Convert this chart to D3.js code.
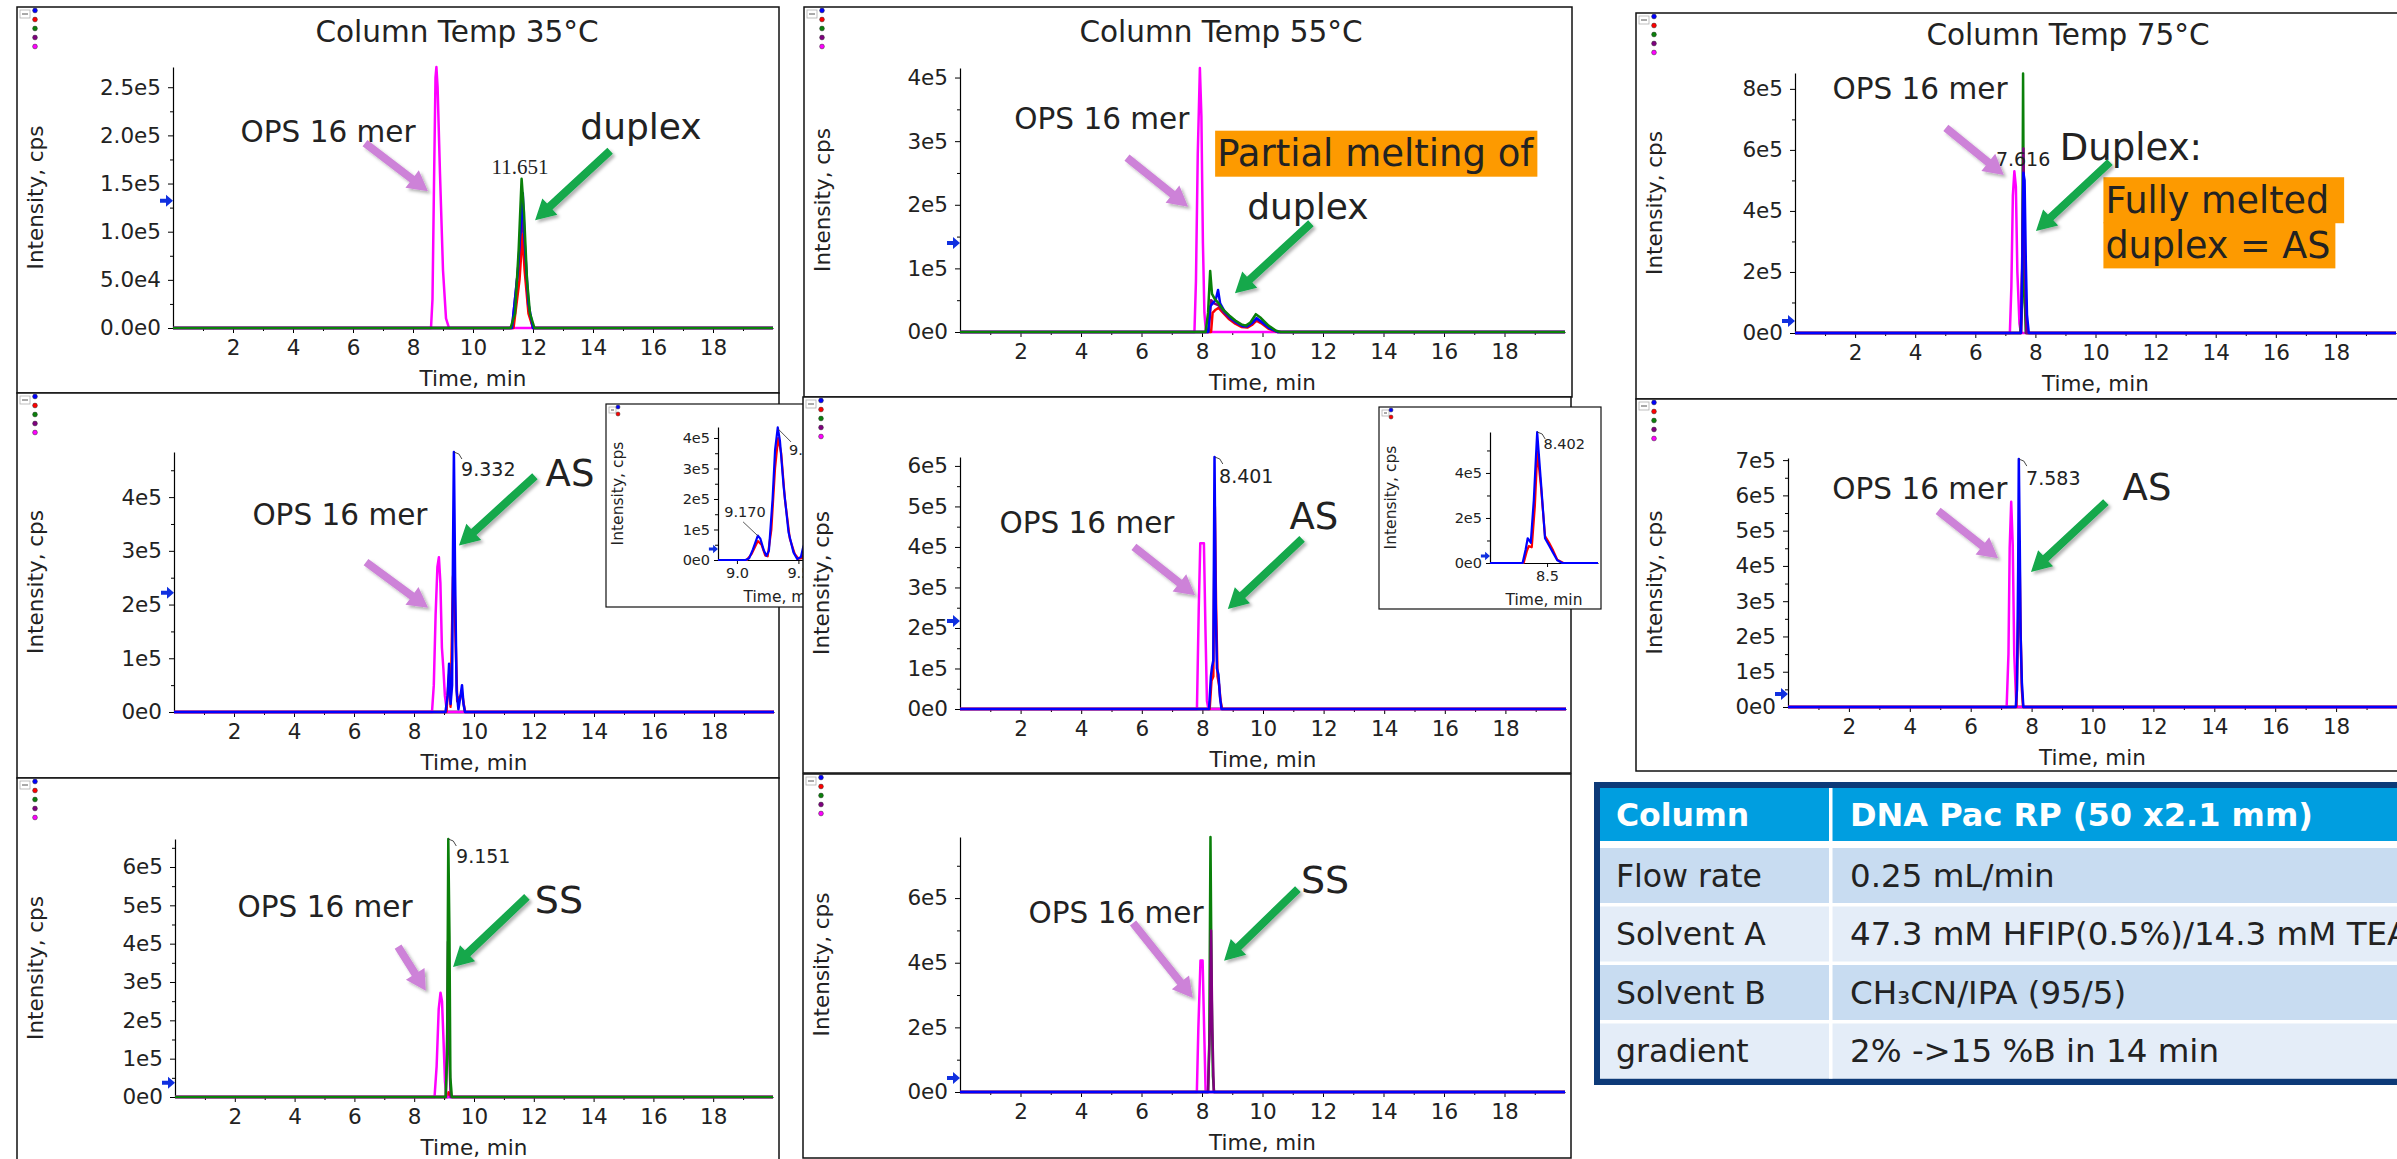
<!DOCTYPE html>
<html>
<head>
<meta charset="utf-8">
<script src="https://cdn.jsdelivr.net/npm/d3@7"></script>
<style>
  body { margin: 0; background: #fff; }
  svg text { font-family: 'DejaVu Sans', Verdana, sans-serif; fill: #222; }
  svg text.serif { font-family: 'Liberation Serif', 'DejaVu Serif', serif; }
  svg text.head { font-weight: bold; fill: #fff; }
</style>
</head>
<body>
<svg id="fig" width="2397" height="1159"></svg>
<script>
'use strict';

// ---- data: [time (min), intensity (cps)] ----
const timeTicks = [2, 4, 6, 8, 10, 12, 14, 16, 18];
const flatTrace = [[0, 0], [20, 0]];

// Column Temp 35°C, duplex
const dup35Magenta = [[0,0],[8.6,0],[8.65,0.3e5],[8.7,1.5e5],[8.75,2.6e5],[8.78,2.71e5],[8.82,2.5e5],[8.9,1.6e5],[9.0,0.6e5],[9.1,0.1e5],[9.2,0],[20,0]];
const dup35Purple = [[0,0],[11.3,0],[11.5,0.6e5],[11.65,1.2e5],[11.73,0.7e5],[11.85,0.2e5],[12.0,0],[20,0]];
const dup35Red = [[0,0],[11.35,0],[11.55,0.5e5],[11.65,0.97e5],[11.72,0.6e5],[11.85,0.15e5],[12.0,0],[20,0]];
const dup35Blue = [[0,0],[11.3,0],[11.5,0.6e5],[11.66,1.4e5],[11.72,0.9e5],[11.85,0.25e5],[12.0,0],[20,0]];
const dup35Green = [[0,0],[11.25,0],[11.4,0.15e5],[11.52,0.8e5],[11.62,1.55e5],[11.7,1.2e5],[11.8,0.5e5],[11.9,0.15e5],[12.05,0],[20,0]];
const dup35Ticks = [0, 5e4, 1e5, 1.5e5, 2e5, 2.5e5];

// Column Temp 55°C, duplex
const dup55Magenta = [[0,0],[7.75,0],[7.8,0.8e5],[7.86,2.8e5],[7.93,4.15e5],[7.98,3.4e5],[8.03,1.4e5],[8.08,0.3e5],[8.13,0],[20,0]];
const dup55Red = [[0,0],[8.3,0],[8.35,0.3e5],[8.45,0.35e5],[8.55,0.38e5],[8.7,0.3e5],[8.9,0.2e5],[9.1,0.13e5],[9.3,0.08e5],[9.5,0.07e5],[9.65,0.11e5],[9.8,0.18e5],[9.95,0.14e5],[10.2,0.05e5],[10.5,0],[20,0]];
const dup55Purple = [[0,0],[8.22,0],[8.3,0.5e5],[8.4,0.45e5],[8.55,0.42e5],[8.7,0.32e5],[8.9,0.22e5],[9.1,0.15e5],[9.3,0.1e5],[9.5,0.09e5],[9.65,0.13e5],[9.8,0.2e5],[9.95,0.16e5],[10.2,0.07e5],[10.5,0],[20,0]];
const dup55Blue = [[0,0],[8.2,0],[8.27,0.4e5],[8.35,0.45e5],[8.45,0.5e5],[8.53,0.66e5],[8.6,0.45e5],[8.75,0.32e5],[8.95,0.22e5],[9.15,0.15e5],[9.35,0.09e5],[9.5,0.09e5],[9.65,0.14e5],[9.8,0.22e5],[9.95,0.17e5],[10.2,0.07e5],[10.5,0],[20,0]];
const dup55Green = [[0,0],[8.12,0],[8.2,0.3e5],[8.27,0.96e5],[8.33,0.6e5],[8.42,0.52e5],[8.55,0.45e5],[8.7,0.35e5],[8.9,0.26e5],[9.1,0.18e5],[9.3,0.12e5],[9.45,0.1e5],[9.6,0.15e5],[9.78,0.28e5],[9.95,0.22e5],[10.2,0.1e5],[10.45,0.02e5],[10.6,0],[20,0]];
const dup55Ticks = [0, 1e5, 2e5, 3e5, 4e5];

// Column Temp 75°C, duplex
const dup75Magenta = [[0,0],[7.15,0],[7.2,1.5e5],[7.25,4.5e5],[7.3,5.3e5],[7.35,4.8e5],[7.4,2.0e5],[7.47,0.3e5],[7.52,0],[20,0]];
const dup75Red = [[0,0],[7.52,0],[7.58,3.0e5],[7.61,5.0e5],[7.65,2.0e5],[7.72,0],[20,0]];
const dup75Green = [[0,0],[7.5,0],[7.56,1.0e5],[7.59,8.5e5],[7.62,2.0e5],[7.68,0],[20,0]];
const dup75Purple = [[0,0],[7.52,0],[7.57,3.0e5],[7.6,6.05e5],[7.64,3.0e5],[7.7,0],[20,0]];
const dup75Blue = [[0,0],[7.52,0],[7.57,2.5e5],[7.6,5.25e5],[7.64,5.0e5],[7.68,2.4e5],[7.72,0.6e5],[7.78,0],[20,0]];
const dup75Ticks = [0, 2e5, 4e5, 6e5, 8e5];

// AS at 35 / 55 / 75°C
const as35Magenta = [[0,0],[8.6,0],[8.66,0.5e5],[8.72,1.8e5],[8.78,2.7e5],[8.83,2.88e5],[8.88,2.4e5],[8.93,1.2e5],[8.98,0.8e5],[9.03,0.3e5],[9.1,0],[20,0]];
const as35Red = [[0,0],[9.08,0],[9.17,0.7e5],[9.22,0.1e5],[9.3,2.5e5],[9.34,2.75e5],[9.38,1.5e5],[9.44,0.2e5],[9.6,0.35e5],[9.7,0],[20,0]];
const as35Blue = [[0,0],[9.05,0],[9.12,0.3e5],[9.17,0.9e5],[9.22,0.15e5],[9.27,0.5e5],[9.3,3.0e5],[9.33,4.84e5],[9.37,2.5e5],[9.42,0.4e5],[9.48,0.05e5],[9.55,0.3e5],[9.6,0.5e5],[9.65,0.15e5],[9.7,0],[20,0]];
const as35Ticks = [0, 1e5, 2e5, 3e5, 4e5];
const as35InsetRed = [[8.846,0],[9.08,0],[9.12,0.2e5],[9.17,0.62e5],[9.2,0.5e5],[9.23,0.15e5],[9.25,0.12e5],[9.28,1.0e5],[9.31,3.0e5],[9.335,4.0e5],[9.36,3.5e5],[9.39,2.0e5],[9.43,0.7e5],[9.47,0.2e5],[9.5,0.04e5],[9.53,0.06e5],[9.56,0.35e5],[9.6,0.9e5]];
const as35InsetBlue = [[8.846,0],[9.07,0],[9.1,0.06e5],[9.13,0.35e5],[9.17,0.8e5],[9.19,0.7e5],[9.22,0.3e5],[9.24,0.14e5],[9.26,0.3e5],[9.29,2.0e5],[9.31,3.6e5],[9.332,4.35e5],[9.35,3.9e5],[9.38,2.4e5],[9.42,0.9e5],[9.46,0.25e5],[9.49,0.03e5],[9.52,0.1e5],[9.54,0.44e5],[9.6,1.0e5]];
const as35InsetTicks = [0, 1e5, 2e5, 3e5, 4e5];

const as55Magenta = [[0,0],[7.82,0],[7.88,2.5e5],[7.93,4.09e5],[8.05,4.09e5],[8.1,2.0e5],[8.15,0.2e5],[8.2,0],[20,0]];
const as55Red = [[0,0],[8.24,0],[8.3,0.7e5],[8.36,0.8e5],[8.41,5.0e5],[8.45,2.6e5],[8.5,0.8e5],[8.55,0.6e5],[8.6,0.2e5],[8.65,0],[20,0]];
const as55Blue = [[0,0],[8.22,0],[8.28,0.8e5],[8.32,1.05e5],[8.36,1.2e5],[8.4,6.22e5],[8.44,2.5e5],[8.48,1.0e5],[8.53,0.85e5],[8.58,0.3e5],[8.63,0],[20,0]];
const as55Ticks = [0, 1e5, 2e5, 3e5, 4e5, 5e5, 6e5];
const as55InsetRed = [[7.94,0],[8.27,0],[8.3,0.5e5],[8.32,0.75e5],[8.35,0.7e5],[8.38,2.5e5],[8.405,4.95e5],[8.44,3.4e5],[8.48,1.2e5],[8.52,0.9e5],[8.56,0.55e5],[8.6,0.15e5],[8.66,0],[9.0,0]];
const as55InsetBlue = [[7.94,0],[8.26,0],[8.29,0.6e5],[8.31,1.1e5],[8.34,0.9e5],[8.37,2.8e5],[8.403,5.82e5],[8.44,3.6e5],[8.48,1.1e5],[8.52,0.78e5],[8.56,0.45e5],[8.6,0.12e5],[8.65,0],[9.0,0]];
const as55InsetTicks = [0, 2e5, 4e5];

const as75Magenta = [[0,0],[7.18,0],[7.24,1.5e5],[7.28,4.5e5],[7.33,5.82e5],[7.38,4.6e5],[7.43,1.5e5],[7.5,0],[20,0]];
const as75Red = [[0,0],[7.5,0],[7.56,2.5e5],[7.6,4.7e5],[7.63,2.5e5],[7.68,0.5e5],[7.72,0],[20,0]];
const as75Blue = [[0,0],[7.48,0],[7.52,0.5e5],[7.56,4.0e5],[7.58,7.03e5],[7.61,4.7e5],[7.64,2.0e5],[7.68,0.7e5],[7.73,0],[20,0]];
const as75Ticks = [0, 1e5, 2e5, 3e5, 4e5, 5e5, 6e5, 7e5];

// SS at 35 / 55°C
const ss35Red = [[0,0],[9.1,0],[9.15,0.12e5],[9.2,0.05e5],[9.25,0],[20,0]];
const ss35Magenta = [[0,0],[8.68,0],[8.75,0.8e5],[8.82,2.3e5],[8.88,2.72e5],[8.93,2.5e5],[8.98,1.5e5],[9.03,0.4e5],[9.08,0],[20,0]];
const ss35Purple = [[0,0],[9.06,0],[9.1,1.5e5],[9.13,4.05e5],[9.17,1.2e5],[9.22,0],[20,0]];
const ss35Green = [[0,0],[9.05,0],[9.1,1.0e5],[9.14,6.73e5],[9.18,4.2e5],[9.21,0.5e5],[9.26,0],[20,0]];
const ss35Ticks = [0, 1e5, 2e5, 3e5, 4e5, 5e5, 6e5];

const ss55Magenta = [[0,0],[7.83,0],[7.88,2.0e5],[7.95,4.07e5],[8.02,4.07e5],[8.07,2.0e5],[8.12,0],[20,0]];
const ss55Green = [[0,0],[8.2,0],[8.24,1.5e5],[8.28,7.89e5],[8.32,3.0e5],[8.36,0.5e5],[8.4,0],[20,0]];
const ss55Purple = [[0,0],[8.2,0],[8.26,2.0e5],[8.3,5.0e5],[8.34,2.0e5],[8.39,0],[20,0]];
const ss55Ticks = [0, 2e5, 4e5, 6e5];

// method table
const tableLabels = ['Column', 'Flow rate', 'Solvent A', 'Solvent B', 'gradient'];
const tableValues = ['DNA Pac RP (50 x2.1 mm)', '0.25 mL/min', '47.3 mM HFIP(0.5%)/14.3 mM TEA', 'CH\u2083CN/IPA (95/5)', '2% ->15 %B in 14 min'];

// ---- styles ----
const colors = { blue: '#0000ff', red: '#ff0000', green: '#0a800a', purple: '#800080', magenta: '#ff00ff' };
const pink = '#cd82d8';
const arrowGreen = '#12a84c';
const orange = '#fd9a00';
const fmt1 = v => d3.format('.1e')(v).replace('+', '');
const fmt0 = v => d3.format('.0e')(v).replace('+', '');
const legend5 = ['blue', 'red', 'green', 'purple', 'magenta'];

// ---- layout (pixels) and annotations (data units) ----
const panels = [
  { box: [17, 7, 762, 386], plot: { left: 173, right: 773, top: 67, bottom: 328 }, yMax: 2.71e5, yTicks: dup35Ticks, fmt: fmt1,
    title: 'Column Temp 35°C', titlePos: [457, 32], marker: 1.32e5,
    traces: [['magenta', dup35Magenta], ['purple', dup35Purple], ['red', dup35Red], ['blue', dup35Blue], ['green', dup35Green]],
    texts: [{ t: 5.17, v: 2.035e5, text: 'OPS 16 mer', size: 29.5 }, { t: 15.6, v: 2.09e5, text: 'duplex', size: 36 },
      { t: 11.57, v: 1.68e5, text: '11.651', size: 21, serif: true }],
    arrows: [{ from: [6.4, 1.92e5], to: [8.5, 1.42e5], color: pink }, { from: [14.57, 1.84e5], to: [12.07, 1.12e5], color: arrowGreen }] },
  { box: [804, 7, 768, 390], plot: { left: 960, right: 1565, top: 68, bottom: 332 }, yMax: 4.15e5, yTicks: dup55Ticks, fmt: fmt0,
    title: 'Column Temp 55°C', titlePos: [1221, 32], marker: 1.4e5,
    traces: [['magenta', dup55Magenta], ['red', dup55Red], ['purple', dup55Purple], ['blue', dup55Blue], ['green', dup55Green]],
    texts: [{ t: 4.69, v: 3.36e5, text: 'OPS 16 mer', size: 29.5 },
      { t: 8.5, v: 2.81e5, text: 'Partial melting of', size: 37, anchor: 'start', bg: orange, padR: 3 },
      { t: 11.5, v: 1.97e5, text: 'duplex', size: 36 }],
    arrows: [{ from: [5.52, 2.74e5], to: [7.54, 1.97e5], color: pink }, { from: [11.6, 1.71e5], to: [9.09, 0.61e5], color: arrowGreen }] },
  { box: [1636, 13, 800, 386], plot: { left: 1795, right: 2396, top: 73, bottom: 333 }, yMax: 8.52e5, yTicks: dup75Ticks, fmt: fmt0,
    title: 'Column Temp 75°C', titlePos: [2068, 35], marker: 0.39e5,
    traces: [['magenta', dup75Magenta], ['red', dup75Red], ['green', dup75Green], ['purple', dup75Purple], ['blue', dup75Blue]],
    texts: [{ t: 4.16, v: 8.0e5, text: 'OPS 16 mer', size: 29.5 }, { t: 7.59, v: 5.7e5, text: '7.616', size: 19 },
      { t: 11.18, v: 6.09e5, text: 'Duplex:', size: 37 },
      { t: 10.33, v: 4.36e5, text: 'Fully melted', size: 36.5, anchor: 'start', bg: orange, padR: 15 },
      { t: 10.33, v: 2.88e5, text: 'duplex = AS', size: 36.5, anchor: 'start', bg: orange, padR: 5 }],
    arrows: [{ from: [5.02, 6.72e5], to: [6.95, 5.18e5], color: pink }, { from: [10.48, 5.6e5], to: [8.02, 3.34e5], color: arrowGreen }] },
  { box: [17, 393, 762, 385], plot: { left: 174, right: 774, top: 452, bottom: 712 }, yMax: 4.84e5, yTicks: as35Ticks, fmt: fmt0, marker: 2.22e5,
    traces: [['green', flatTrace], ['purple', flatTrace], ['magenta', as35Magenta], ['red', as35Red], ['blue', as35Blue]],
    texts: [{ t: 5.53, v: 3.67e5, text: 'OPS 16 mer', size: 29.5 }, { t: 13.2, v: 4.45e5, text: 'AS', size: 37 }],
    peaks: [{ apex: [9.33, 4.84e5], at: [9.57, 4.52e5], text: '9.332' }],
    arrows: [{ from: [6.4, 2.79e5], to: [8.47, 1.94e5], color: pink }, { from: [12.03, 4.39e5], to: [9.5, 3.1e5], color: arrowGreen }] },
  { inset: true, box: [606, 404, 265, 203], plot: { left: 718, right: 846, top: 427, bottom: 560 }, xDomain: [8.846, 9.887], xTicks: [9.0, 9.5],
    yMax: 4.36e5, yTicks: as35InsetTicks, fmt: fmt0, marker: 0.36e5,
    traces: [['red', as35InsetRed], ['blue', as35InsetBlue]],
    texts: [{ t: 9.066, v: 1.57e5, text: '9.170', size: 14.5 }, { t: 9.423, v: 3.6e5, text: '9.332', size: 14.5, anchor: 'start' }],
    leaders: [[[9.05, 1.25e5], [9.171, 0.79e5]], [[9.334, 4.3e5], [9.44, 3.87e5]]] },
  { box: [803, 397, 768, 376], plot: { left: 960, right: 1566, top: 457, bottom: 709 }, yMax: 6.22e5, yTicks: as55Ticks, fmt: fmt0, marker: 2.17e5,
    traces: [['green', flatTrace], ['purple', flatTrace], ['magenta', as55Magenta], ['red', as55Red], ['blue', as55Blue]],
    texts: [{ t: 4.19, v: 4.59e5, text: 'OPS 16 mer', size: 29.5 }, { t: 11.68, v: 4.77e5, text: 'AS', size: 37 }],
    peaks: [{ apex: [8.41, 6.22e5], at: [8.55, 5.75e5], text: '8.401' }],
    arrows: [{ from: [5.74, 4.0e5], to: [7.76, 2.81e5], color: pink }, { from: [11.29, 4.2e5], to: [8.84, 2.47e5], color: arrowGreen }] },
  { inset: true, box: [1379, 407, 222, 202], plot: { left: 1490, right: 1598, top: 432, bottom: 563 }, xDomain: [7.94, 9.0], xTicks: [8.5],
    yMax: 5.82e5, yTicks: as55InsetTicks, fmt: fmt0, marker: 0.31e5,
    traces: [['red', as55InsetRed], ['blue', as55InsetBlue]],
    peaks: [{ apex: [8.403, 5.82e5], at: [8.465, 5.29e5], text: '8.402', size: 14.5 }] },
  { box: [1636, 399, 800, 372], plot: { left: 1788, right: 2397, top: 458, bottom: 707 }, yMax: 7.06e5, yTicks: as75Ticks, fmt: fmt0, marker: 0.37e5,
    traces: [['green', flatTrace], ['purple', flatTrace], ['magenta', as75Magenta], ['red', as75Red], ['blue', as75Blue]],
    texts: [{ t: 4.33, v: 6.18e5, text: 'OPS 16 mer', size: 29.5 }, { t: 11.79, v: 6.24e5, text: 'AS', size: 37 }],
    peaks: [{ apex: [7.58, 7.03e5], at: [7.82, 6.49e5], text: '7.583' }],
    arrows: [{ from: [4.93, 5.56e5], to: [6.9, 4.22e5], color: pink }, { from: [10.44, 5.81e5], to: [7.98, 3.83e5], color: arrowGreen }] },
  { box: [17, 778, 762, 400], plot: { left: 175, right: 773, top: 839, bottom: 1097 }, yMax: 6.73e5, yTicks: ss35Ticks, fmt: fmt0, marker: 0.37e5,
    traces: [['blue', flatTrace], ['red', ss35Red], ['magenta', ss35Magenta], ['purple', ss35Purple], ['green', ss35Green]],
    texts: [{ t: 5.02, v: 4.96e5, text: 'OPS 16 mer', size: 29.5 }, { t: 12.84, v: 5.14e5, text: 'SS', size: 38 }],
    peaks: [{ apex: [9.14, 6.73e5], at: [9.4, 6.27e5], text: '9.151' }],
    arrows: [{ from: [7.46, 3.92e5], to: [8.39, 2.77e5], color: pink }, { from: [11.77, 5.22e5], to: [9.3, 3.39e5], color: arrowGreen }] },
  { box: [803, 774, 768, 384], plot: { left: 960, right: 1565, top: 837, bottom: 1092 }, yMax: 7.89e5, yTicks: ss55Ticks, fmt: fmt0, marker: 0.43e5,
    traces: [['red', flatTrace], ['magenta', ss55Magenta], ['green', ss55Green], ['purple', ss55Purple], ['blue', flatTrace]],
    texts: [{ t: 5.16, v: 5.54e5, text: 'OPS 16 mer', size: 29.5 }, { t: 12.07, v: 6.56e5, text: 'SS', size: 38 }],
    arrows: [{ from: [5.72, 5.23e5], to: [7.7, 2.91e5], color: pink }, { from: [11.17, 6.28e5], to: [8.73, 4.06e5], color: arrowGreen }] }
];

const svg = d3.select('#fig');
const defs = svg.append('defs');
defs.append('filter').attr('id', 'shadow').attr('x', '-20%').attr('y', '-20%').attr('width', '150%').attr('height', '150%')
  .append('feDropShadow').attr('dx', 2.5).attr('dy', 2.5).attr('stdDeviation', 1.5)
  .attr('flood-color', '#000').attr('flood-opacity', 0.3);

/**
 * Polygon for a block arrow from (x1,y1) to the tip (x2,y2)
 */
function arrowPoints(x1, y1, x2, y2, sw, hw, hl) {
  const dx = x2 - x1, dy = y2 - y1, len = Math.hypot(dx, dy);
  const ux = dx / len, uy = dy / len, nx = -uy, ny = ux;
  const bx = x2 - ux * hl, by = y2 - uy * hl;
  return [
    [x1 + nx * sw / 2, y1 + ny * sw / 2], [bx + nx * sw / 2, by + ny * sw / 2], [bx + nx * hw / 2, by + ny * hw / 2],
    [x2, y2],
    [bx - nx * hw / 2, by - ny * hw / 2], [bx - nx * sw / 2, by - ny * sw / 2], [x1 - nx * sw / 2, y1 - ny * sw / 2]
  ];
}

/**
 * Draw one chromatogram window
 * @param {Object} p panel layout + traces
 */
function drawPanel(p) {
  const g = svg.append('g');
  const [bx, by, bw, bh] = p.box;
  const small = !!p.inset;
  const fs = small ? 14.5 : 21.5;
  const tickLen = small ? 4 : 5;
  const pad = small ? 4 : 7;

  g.append('rect').attr('x', bx).attr('y', by).attr('width', bw).attr('height', bh)
    .attr('fill', '#fff').attr('stroke', '#111').attr('stroke-width', small ? 1.2 : 1.5);

  // legend widget top-left
  g.append('rect').attr('x', bx + 3).attr('y', by + 3).attr('width', small ? 7 : 10).attr('height', small ? 6 : 8)
    .attr('fill', '#fff').attr('stroke', '#b0b0b0').attr('stroke-width', 0.8);
  g.append('line').attr('x1', bx + 5).attr('x2', bx + (small ? 8 : 11)).attr('y1', by + (small ? 6 : 7)).attr('y2', by + (small ? 6 : 7))
    .attr('stroke', '#555').attr('stroke-width', 1);
  (small ? ['blue', 'red'] : legend5).forEach(function(c, i) {
    g.append('circle').attr('cx', bx + (small ? 12 : 18)).attr('cy', by + (small ? 3 : 3.5) + i * (small ? 7 : 9))
      .attr('r', small ? 2 : 2.4).attr('fill', colors[c]).attr('stroke', '#333').attr('stroke-width', 0.5);
  });

  const x = d3.scaleLinear().domain(p.xDomain || [0, 20]).range([p.plot.left, p.plot.right]);
  const y = d3.scaleLinear().domain([0, p.yMax]).range([p.plot.bottom, p.plot.top]);

  // y axis with minor ticks
  const yStep = p.yTicks[1] - p.yTicks[0];
  g.append('g').attr('transform', `translate(${p.plot.left},0)`)
    .call(d3.axisLeft(y).tickValues(d3.range(yStep / 2, p.yMax, yStep)).tickSize(3).tickFormat(''))
    .call(s => s.select('.domain').remove());
  const ya = g.append('g').attr('transform', `translate(${p.plot.left},0)`)
    .call(d3.axisLeft(y).tickValues(p.yTicks).tickFormat(p.fmt).tickSize(tickLen).tickPadding(pad).tickSizeOuter(0));
  ya.attr('font-size', fs);
  ya.select('.domain').attr('stroke-width', 1.2);

  // x axis with minor ticks
  const xTicks = p.xTicks || timeTicks;
  if (!small) {
    g.append('g').attr('transform', `translate(0,${p.plot.bottom})`)
      .call(d3.axisBottom(x).tickValues(d3.range(1, 20, 2)).tickSize(3).tickFormat(''))
      .call(s => s.select('.domain').remove());
  }
  const xa = g.append('g').attr('transform', `translate(0,${p.plot.bottom})`)
    .call(d3.axisBottom(x).tickValues(xTicks).tickFormat(small ? d3.format('.1f') : d3.format('d'))
      .tickSize(tickLen).tickPadding(pad).tickSizeOuter(0));
  xa.attr('font-size', fs);
  xa.select('.domain').attr('stroke-width', 1.2);

  // axis titles
  g.append('text').attr('x', (p.plot.left + p.plot.right) / 2).attr('y', p.plot.bottom + (small ? 37 : 50))
    .attr('dy', '0.35em').attr('text-anchor', 'middle').attr('font-size', small ? 15.5 : 21.5).text('Time, min');
  g.append('text').attr('transform', `translate(${bx + (small ? 12 : 18)},${(p.plot.top + p.plot.bottom) / 2}) rotate(-90)`)
    .attr('dy', '0.35em').attr('text-anchor', 'middle').attr('font-size', small ? 15.5 : 21.5).text('Intensity, cps');

  if (p.title) {
    g.append('text').attr('x', p.titlePos[0]).attr('y', p.titlePos[1]).attr('dy', '0.35em')
      .attr('text-anchor', 'middle').attr('font-size', 29.5).text(p.title);
  }

  // traces
  const line = d3.line().x(d => x(d[0])).y(d => y(d[1]));
  p.traces.forEach(function(t) {
    g.append('path').datum(t[1]).attr('d', line).attr('fill', 'none')
      .attr('stroke', colors[t[0]]).attr('stroke-width', small ? 2.2 : 2.5).attr('stroke-linejoin', 'round');
  });

  // blue marker on the y axis
  const my = y(p.marker), mx = p.plot.left;
  const k = small ? 0.7 : 1;
  g.append('path')
    .attr('d', `M${mx - 13 * k},${my - 2 * k}h${6 * k}v${-4 * k}l${7 * k},${6 * k}l${-7 * k},${6 * k}v${-4 * k}h${-6 * k}z`)
    .attr('fill', '#1030e0');

  // peak labels with leader line
  (p.peaks || []).forEach(function(d) {
    const ax = x(d.apex[0]), ay = y(d.apex[1]);
    g.append('path').attr('d', `M${ax},${ay}l5,2l3,5`).attr('fill', 'none').attr('stroke', '#333').attr('stroke-width', 0.9);
    g.append('text').attr('x', x(d.at[0])).attr('y', y(d.at[1])).attr('dy', '0.35em')
      .attr('font-size', d.size || 19).text(d.text);
  });
  (p.leaders || []).forEach(function(d) {
    g.append('line').attr('x1', x(d[0][0])).attr('y1', y(d[0][1])).attr('x2', x(d[1][0])).attr('y2', y(d[1][1]))
      .attr('stroke', '#444').attr('stroke-width', 0.9);
  });

  // text annotations
  (p.texts || []).forEach(function(d) {
    const t = g.append('text').attr('x', x(d.t)).attr('y', y(d.v)).attr('dy', '0.35em')
      .attr('text-anchor', d.anchor || 'middle').attr('font-size', d.size).text(d.text);
    if (d.serif) t.attr('class', 'serif');
    if (d.bg) {
      const b = t.node().getBBox();
      g.insert('rect', () => t.node()).attr('x', b.x - 2).attr('y', b.y - 1.5)
        .attr('width', b.width + 2 + d.padR).attr('height', b.height + 3).attr('fill', d.bg);
    }
  });

  // block arrows
  (p.arrows || []).forEach(function(d) {
    const pts = arrowPoints(x(d.from[0]), y(d.from[1]), x(d.to[0]), y(d.to[1]), 8, 22, 20);
    g.append('polygon').attr('points', pts.map(q => q.join(',')).join(' '))
      .attr('fill', d.color).attr('filter', 'url(#shadow)');
  });
}

panels.forEach(drawPanel);

// ---- method table ----
const tb = { x: 1594, y: 782, w: 830, h: 303, border: 6, headH: 53, gap: 7, rowH: 55, sep: 3.5, colX: 1829, labelX: 1616, valueX: 1850 };
const tg = svg.append('g');
tg.append('rect').attr('x', tb.x).attr('y', tb.y).attr('width', tb.w).attr('height', tb.h).attr('fill', '#0d3a78');
const innerX = tb.x + tb.border, innerW = tb.w - tb.border;
const innerTop = tb.y + tb.border;
tg.append('rect').attr('x', innerX).attr('y', innerTop).attr('width', innerW).attr('height', tb.h - 2 * tb.border - 0.5).attr('fill', '#fff');

const rowTop = i => i === 0 ? innerTop : innerTop + tb.headH + tb.gap + (i - 1) * (tb.rowH + tb.sep);
const rowH = i => i === 0 ? tb.headH : tb.rowH;
const rowFill = i => i === 0 ? '#009ee0' : (i % 2 === 1 ? '#c8dcf1' : '#e4edf8');

tg.selectAll('rect.row').data(tableLabels).enter().append('rect').attr('class', 'row')
  .attr('x', innerX).attr('y', (d, i) => rowTop(i)).attr('width', innerW).attr('height', (d, i) => rowH(i))
  .attr('fill', (d, i) => rowFill(i));
tg.append('rect').attr('x', tb.colX).attr('y', innerTop).attr('width', 3.5)
  .attr('height', rowTop(tableLabels.length - 1) + tb.rowH - innerTop).attr('fill', '#fff');

tg.selectAll('text.lab').data(tableLabels).enter().append('text')
  .attr('class', (d, i) => i === 0 ? 'lab head' : 'lab')
  .attr('x', tb.labelX).attr('y', (d, i) => rowTop(i) + rowH(i) / 2).attr('dy', '0.35em')
  .attr('font-size', 31.5).text(d => d);
tg.selectAll('text.val').data(tableValues).enter().append('text')
  .attr('class', (d, i) => i === 0 ? 'val head' : 'val')
  .attr('x', tb.valueX).attr('y', (d, i) => rowTop(i) + rowH(i) / 2).attr('dy', '0.35em')
  .attr('font-size', (d, i) => i === 0 ? 32 : 32.5).text(d => d);
</script>
</body>
</html>
